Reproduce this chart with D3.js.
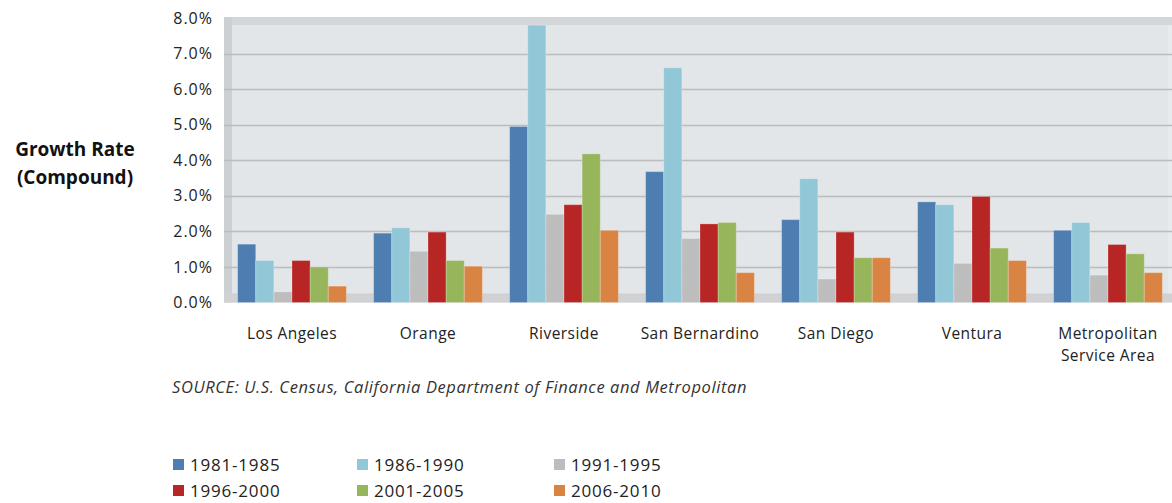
<!DOCTYPE html>
<html lang="en">
<head>
    <meta charset="UTF-8">
    <title>Growth Rate (Compound) by County</title>
    <script src="https://d3js.org/d3.v7.min.js"></script>
    <style>
        body {
            margin: 0;
            background: #fff;
            font-family: "Open Sans", "DejaVu Sans", sans-serif;
        }
        .tick-label {
            font-size: 16px;
            letter-spacing: 1px;
            fill: #222;
            text-anchor: end;
        }
        .cat-label {
            font-size: 15.5px;
            letter-spacing: 0.45px;
            fill: #222;
            text-anchor: middle;
        }
        .axis-title {
            font-size: 19px;
            font-weight: bold;
            fill: #111;
            text-anchor: middle;
        }
        .source {
            font-size: 16.5px;
            letter-spacing: 0.6px;
            font-style: italic;
            fill: #333;
        }
        .legend-label {
            font-size: 17px;
            letter-spacing: 0.8px;
            fill: #222;
        }
    </style>
</head>
<body>
    <svg id="chart"></svg>

    <script>
        // categories and periods
        const counties = ["Los Angeles", "Orange", "Riverside", "San Bernardino", "San Diego", "Ventura", "Metropolitan Service Area"];
        const periods = ["1981-1985", "1986-1990", "1991-1995", "1996-2000", "2001-2005", "2006-2010"];

        // growth rate (%) per period, one value per county
        const rate1981 = [1.64, 1.95, 4.95, 3.68, 2.33, 2.83, 2.03];
        const rate1986 = [1.18, 2.10, 7.80, 6.60, 3.48, 2.75, 2.25];
        const rate1991 = [0.30, 1.44, 2.48, 1.80, 0.66, 1.10, 0.77];
        const rate1996 = [1.18, 1.98, 2.75, 2.21, 1.98, 2.98, 1.63];
        const rate2001 = [1.00, 1.18, 4.18, 2.25, 1.26, 1.53, 1.37];
        const rate2006 = [0.46, 1.02, 2.03, 0.84, 1.26, 1.18, 0.84];

        const yTicks = [0, 1, 2, 3, 4, 5, 6, 7, 8];

        const seriesValues = [rate1981, rate1986, rate1991, rate1996, rate2001, rate2006];
        const colors = ["#4e7db2", "#91c7d7", "#bdbdbd", "#b72524", "#97b55a", "#d98443"];

        const width = 1172;
        const height = 503;

        const svg = d3.select("#chart")
            .attr("width", width)
            .attr("height", height);

        const x = d3.scaleBand()
            .domain(counties)
            .range([224, 1176])
            .paddingInner(0.2)
            .paddingOuter(0.1);

        const xInner = d3.scaleBand()
            .domain(periods)
            .range([0, x.bandwidth()]);

        const y = d3.scaleLinear()
            .domain([0, 8])
            .range([302.5, 18]);

        // 3d-ish frame: back wall, left wall, floor
        const wallLeft = 224, wallRight = 1168, wallTop = 17, depth = 8;
        svg.append("rect")
            .attr("x", wallLeft).attr("y", wallTop)
            .attr("width", width - wallLeft).attr("height", y(0) - wallTop)
            .attr("fill", "#e8ebed");
        svg.append("rect")
            .attr("x", wallLeft).attr("y", wallTop)
            .attr("width", width - wallLeft).attr("height", depth)
            .attr("fill", "#d3d7da");
        svg.append("rect")
            .attr("x", wallLeft + depth).attr("y", wallTop + depth)
            .attr("width", wallRight - wallLeft - depth).attr("height", y(0) - wallTop - depth)
            .attr("fill", "#e2e6e9");
        svg.append("rect")
            .attr("x", wallLeft).attr("y", wallTop)
            .attr("width", depth).attr("height", y(0) - wallTop)
            .attr("fill", "#cdd0d3");

        // gridlines
        svg.append("g")
            .selectAll("line")
            .data(yTicks.slice(1, -1))
            .enter().append("line")
            .attr("x1", wallLeft)
            .attr("x2", width)
            .attr("y1", d => Math.round(y(d)) + 0.5)
            .attr("y2", d => Math.round(y(d)) + 0.5)
            .attr("stroke", "#b9bdc0")
            .attr("stroke-width", 1.5);

        // floor
        svg.append("rect")
            .attr("x", wallLeft).attr("y", y(0) - 9)
            .attr("width", width - wallLeft).attr("height", 9)
            .attr("fill", "#cfd1d3");

        // y tick labels
        svg.append("g")
            .selectAll("text")
            .data(yTicks)
            .enter().append("text")
            .attr("class", "tick-label")
            .attr("x", 213)
            .attr("y", d => y(d))
            .attr("dy", "0.35em")
            .text(d => d.toFixed(1) + "%");

        // bars
        const groups = svg.append("g")
            .selectAll("g")
            .data(counties)
            .enter().append("g")
            .attr("transform", d => `translate(${x(d)},0)`);

        groups.selectAll("rect")
            .data((d, i) => periods.map((p, j) => ({ period: p, value: seriesValues[j][i], color: colors[j] })))
            .enter().append("rect")
            .attr("x", d => xInner(d.period))
            .attr("width", xInner.bandwidth())
            .attr("y", d => y(d.value))
            .attr("height", d => y(0) - y(d.value))
            .attr("fill", d => d.color)
            .attr("stroke", "rgba(255,255,255,0.25)")
            .attr("stroke-width", 1);

        // category labels
        const catText = svg.append("g")
            .selectAll("text")
            .data(counties)
            .enter().append("text")
            .attr("class", "cat-label")
            .attr("x", d => x(d) + x.bandwidth() / 2)
            .attr("y", 339);

        catText.each(function(d) {
            const t = d3.select(this);
            if (d === "Metropolitan Service Area") {
                t.append("tspan").attr("x", x(d) + x.bandwidth() / 2).text("Metropolitan");
                t.append("tspan").attr("x", x(d) + x.bandwidth() / 2).attr("dy", 22).text("Service Area");
            } else {
                t.text(d);
            }
        });

        // axis title
        svg.append("text")
            .attr("class", "axis-title")
            .attr("x", 75).attr("y", 156)
            .text("Growth Rate");
        svg.append("text")
            .attr("class", "axis-title")
            .attr("x", 75).attr("y", 184)
            .text("(Compound)");

        // source note
        svg.append("text")
            .attr("class", "source")
            .attr("x", 172).attr("y", 393)
            .text("SOURCE: U.S. Census, California Department of Finance and Metropolitan");

        // legend, 3 columns x 2 rows
        const legendX = [173, 357, 554];
        const legendY = [465, 491];
        const legend = svg.append("g")
            .selectAll("g")
            .data(periods)
            .enter().append("g")
            .attr("transform", (d, i) => `translate(${legendX[i % 3]},${legendY[Math.floor(i / 3)]})`);

        legend.append("rect")
            .attr("x", 0).attr("y", -6)
            .attr("width", 11).attr("height", 11)
            .attr("fill", (d, i) => colors[i]);

        legend.append("text")
            .attr("class", "legend-label")
            .attr("x", 17)
            .attr("y", 0)
            .attr("dy", "0.35em")
            .text(d => d);
    </script>
</body>
</html>
